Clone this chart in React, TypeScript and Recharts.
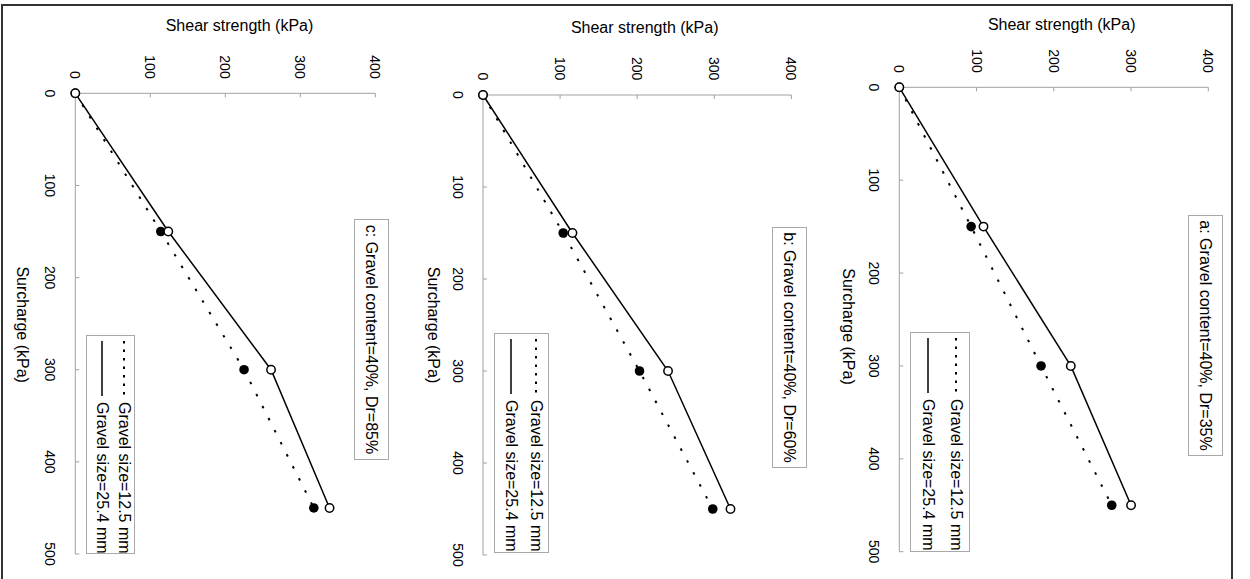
import React from 'react';
import { LineChart, Line, XAxis, YAxis, Legend, Label } from 'recharts';

// ---- data ----
const surchargeKPa = [0, 150, 300, 450];
const surchargeTicks = [0, 100, 200, 300, 400, 500];
const shearTicks = [0, 100, 200, 300, 400];

const panelAFine = [0, 93, 183.5, 275];
const panelACoarse = [0, 109, 222, 300];
const panelBFine = [0, 104, 203, 298];
const panelBCoarse = [0, 116, 240, 321];
const panelCFine = [0, 114, 225, 318];
const panelCCoarse = [0, 124, 261, 339];

const panelTitles = [
  'a: Gravel content=40%, Dr=35%',
  'b: Gravel content=40%, Dr=60%',
  'c: Gravel content=40%, Dr=85%',
];
const seriesNames = ['Gravel size=12.5 mm', 'Gravel size=25.4 mm'];
const xAxisTitle = 'Surcharge (kPa)';
const yAxisTitle = 'Shear strength (kPa)';

// ---- layout / styles ----
const PANEL_W = 579;
const PANEL_H = 417;
const FONT = '"Liberation Sans", Arial, Helvetica, sans-serif';
const AXIS_GRAY = '#a0a0a0';
const BOX_GRAY = '#a8a8a8';
const LEGEND_DASH = ['2.5 6', ''];

const layouts = [
  {
    top: 0,
    margin: { top: 41.7, right: 27.3, bottom: 26.3, left: 27.3 },
    yTitle: { x: 24.5, y: 188.3 },
    xTitle: { x: 326.5, y: 402 },
    titleBox: { left: 215, top: 26.7, width: 241, height: 35.6 },
    legend: { left: 332, top: 280, width: 220, height: 60, rowTop: 13.3, rowGap: 27.7 },
  },
  {
    top: 416.67,
    margin: { top: 41.6, right: 24, bottom: 27, left: 35 },
    yTitle: { x: 27.5, y: 188.3 },
    xTitle: { x: 325, y: 400 },
    titleBox: { left: 227, top: 26.7, width: 241, height: 35 },
    legend: { left: 333, top: 284, width: 220, height: 55.3, rowTop: 12.7, rowGap: 24.3 },
  },
  {
    top: 833.33,
    margin: { top: 41.7, right: 25, bottom: 35.3, left: 33.3 },
    yTitle: { x: 25.8, y: 177.5 },
    xTitle: { x: 324.7, y: 395 },
    titleBox: { left: 219, top: 27.3, width: 241, height: 35 },
    legend: { left: 335, top: 281.7, width: 219, height: 49, rowTop: 10, rowGap: 21.7 },
  },
];

const FilledDot = (props: any) => {
  const { cx, cy, index } = props;
  if (cx == null || cy == null) return <g key={`f${index}`} />;
  return <circle key={`f${index}`} cx={cx} cy={cy} r={4.8} fill="#000" stroke="none" />;
};

const OpenDot = (props: any) => {
  const { cx, cy, index } = props;
  if (cx == null || cy == null) return <g key={`o${index}`} />;
  return <circle key={`o${index}`} cx={cx} cy={cy} r={4.2} fill="#fff" stroke="#000" strokeWidth={1.5} />;
};

function Panel({ fine, coarse, title, layout }: any) {
  const data = surchargeKPa.map((s, i) => ({ s, fine: fine[i], coarse: coarse[i] }));
  const lg = layout.legend;

  const renderLegend = (props: any) => {
    const payload = props.payload || [];
    return (
      <div
        style={{
          position: 'relative',
          boxSizing: 'border-box',
          width: lg.width,
          height: lg.height,
          border: `1px solid ${BOX_GRAY}`,
          background: '#fff',
          fontFamily: FONT,
        }}
      >
        {payload.map((entry: any, i: number) => (
          <div
            key={i}
            style={{
              position: 'absolute',
              left: 0,
              top: lg.rowTop + i * lg.rowGap - 10,
              height: 20,
              display: 'flex',
              alignItems: 'center',
              whiteSpace: 'nowrap',
            }}
          >
            <svg width={64} height={4} style={{ display: 'block' }}>
              <line
                x1={5}
                x2={60}
                y1={2}
                y2={2}
                stroke={entry.color || '#000'}
                strokeWidth={i === 0 ? 2 : 1.5}
                strokeDasharray={LEGEND_DASH[i] || undefined}
              />
            </svg>
            <span style={{ fontSize: 16, lineHeight: '20px', color: '#000', marginLeft: 2 }}>{entry.value}</span>
          </div>
        ))}
      </div>
    );
  };

  return (
    <div style={{ position: 'absolute', left: 0, top: layout.top, width: PANEL_W, height: PANEL_H }}>
      <LineChart width={PANEL_W} height={PANEL_H} data={data} margin={layout.margin}>
        <XAxis
          type="number"
          dataKey="s"
          domain={[0, 500]}
          ticks={surchargeTicks}
          interval={0}
          height={40}
          axisLine={{ stroke: AXIS_GRAY, strokeWidth: 1 }}
          tickLine={{ stroke: AXIS_GRAY, strokeWidth: 1 }}
          tickSize={-4}
          tickMargin={24}
          tick={{ fill: '#000', fontSize: 14 }}
        >
          <Label
            content={() => (
              <text
                x={layout.xTitle.x}
                y={layout.xTitle.y}
                textAnchor="middle"
                dominantBaseline="central"
                fontSize={16}
                fill="#000"
              >
                {xAxisTitle}
              </text>
            )}
          />
        </XAxis>
        <YAxis
          type="number"
          domain={[0, 400]}
          ticks={shearTicks}
          interval={0}
          width={60}
          axisLine={{ stroke: AXIS_GRAY, strokeWidth: 1 }}
          tickLine={{ stroke: AXIS_GRAY, strokeWidth: 1 }}
          tickSize={-4}
          tickMargin={18.6}
          tick={{ fill: '#000', fontSize: 14 }}
        >
          <Label
            content={() => (
              <text
                x={layout.yTitle.x}
                y={layout.yTitle.y}
                transform={`rotate(-90 ${layout.yTitle.x} ${layout.yTitle.y})`}
                textAnchor="middle"
                dominantBaseline="central"
                fontSize={16}
                fill="#000"
              >
                {yAxisTitle}
              </text>
            )}
          />
        </YAxis>
        <Line
          type="linear"
          dataKey="fine"
          name={seriesNames[0]}
          stroke="#000"
          strokeWidth={2}
          strokeDasharray="2.5 11"
          dot={FilledDot}
          activeDot={false}
          isAnimationActive={false}
        />
        <Line
          type="linear"
          dataKey="coarse"
          name={seriesNames[1]}
          stroke="#000"
          strokeWidth={1.5}
          dot={OpenDot}
          activeDot={false}
          isAnimationActive={false}
        />
        <Legend
          layout="vertical"
          align="center"
          verticalAlign="middle"
          content={renderLegend}
          wrapperStyle={{ left: lg.left, top: lg.top, width: lg.width, height: lg.height, margin: 0, padding: 0 }}
        />
      </LineChart>
      <div
        style={{
          position: 'absolute',
          left: layout.titleBox.left,
          top: layout.titleBox.top,
          width: layout.titleBox.width,
          height: layout.titleBox.height,
          boxSizing: 'border-box',
          border: `1px solid ${BOX_GRAY}`,
          background: '#fff',
          fontSize: 16,
          lineHeight: `${layout.titleBox.height - 2}px`,
          textAlign: 'center',
          whiteSpace: 'nowrap',
          color: '#000',
        }}
      >
        {title}
      </div>
    </div>
  );
}

export default function App() {
  const fines = [panelAFine, panelBFine, panelCFine];
  const coarses = [panelACoarse, panelBCoarse, panelCCoarse];
  return (
    <div
      style={{
        position: 'absolute',
        left: 0,
        top: 0,
        width: 1250,
        height: 579,
        overflow: 'hidden',
        background: '#fff',
        fontFamily: FONT,
      }}
    >
      <div
        style={{
          position: 'absolute',
          left: 0,
          top: 0,
          width: PANEL_W,
          height: 1250,
          transformOrigin: '0 0',
          transform: 'translate(1250px, 0px) rotate(90deg)',
        }}
      >
        {layouts.map((layout, i) => (
          <Panel key={i} fine={fines[i]} coarse={coarses[i]} title={panelTitles[i]} layout={layout} />
        ))}
      </div>
      <div
        style={{
          position: 'absolute',
          left: 1,
          top: 4,
          width: 1232,
          height: 620,
          boxSizing: 'border-box',
          border: '2.5px solid #333',
          pointerEvents: 'none',
        }}
      />
    </div>
  );
}
